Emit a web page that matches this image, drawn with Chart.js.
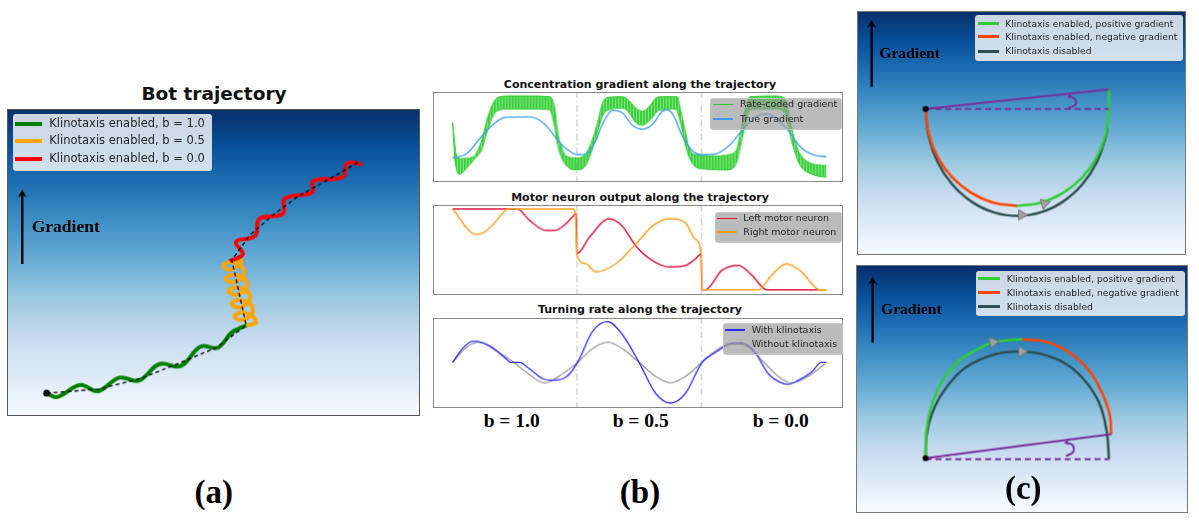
<!DOCTYPE html>
<html>
<head>
<meta charset="utf-8">
<script src="https://cdn.jsdelivr.net/npm/chart.js@4.4.0/dist/chart.umd.min.js"></script>
<style>
  html, body { margin: 0; padding: 0; background: #fff; }
  body { width: 1199px; height: 521px; position: relative; overflow: hidden; font-family: "DejaVu Sans", sans-serif; }
  canvas.frame { position: absolute; border: 1px solid #888; }
  .sky { background: linear-gradient(to bottom, #08306b 0%, #08519c 12.5%, #2171b5 25%, #4292c6 37.5%, #6baed6 50%, #9ecae1 62.5%, #c6dbef 75%, #deebf7 87.5%, #f7fbff 100%); }
  .title { position: absolute; font-weight: bold; white-space: nowrap; transform: translateX(-50%); line-height: 1; color: #111; }
  .serif { position: absolute; font-family: "Liberation Serif", serif; font-weight: bold; line-height: 1; white-space: nowrap; color: #000; }
  .center { transform: translateX(-50%); }
  .legend { position: absolute; border-radius: 3px; box-sizing: border-box; }
  .legend .sw { position: absolute; }
  .legend .tx { position: absolute; color: #262626; white-space: nowrap; }
</style>
</head>
<body>

<canvas id="trajA" class="frame sky" width="413" height="307" style="left:7px;top:109px;border-color:#555"></canvas>
<canvas id="concB" class="frame" width="410" height="90" style="left:433px;top:92px"></canvas>
<canvas id="motorB" class="frame" width="410" height="90" style="left:433px;top:205px"></canvas>
<canvas id="turnB" class="frame" width="410" height="90" style="left:433px;top:318px"></canvas>
<canvas id="arcTop" class="frame sky" width="329" height="244" style="left:857px;top:11px;border-color:#777"></canvas>
<canvas id="arcBot" class="frame sky" width="332" height="248" style="left:856px;top:265px;border-color:#777"></canvas>

<div class="title" style="left:214px;top:85px;font-size:18.5px">Bot trajectory</div>
<div class="title" style="left:640px;top:78.5px;font-size:11px">Concentration gradient along the trajectory</div>
<div class="title" style="left:640px;top:191.7px;font-size:11px">Motor neuron output along the trajectory</div>
<div class="title" style="left:640px;top:304px;font-size:11px">Turning rate along the trajectory</div>

<div class="serif" style="left:31.7px;top:218px;font-size:17.5px">Gradient</div>
<div class="serif" style="left:879.3px;top:45.2px;font-size:15.6px">Gradient</div>
<div class="serif" style="left:881px;top:301.2px;font-size:15.6px">Gradient</div>

<div class="serif center" style="left:511.7px;top:411.4px;font-size:19.5px">b = 1.0</div>
<div class="serif center" style="left:640.7px;top:411.4px;font-size:19.5px">b = 0.5</div>
<div class="serif center" style="left:780.7px;top:411.4px;font-size:19.5px">b = 0.0</div>

<div class="serif center" style="left:213.7px;top:476.4px;font-size:33px">(a)</div>
<div class="serif center" style="left:640px;top:476.4px;font-size:33px">(b)</div>
<div class="serif center" style="left:1023.3px;top:472.4px;font-size:33px">(c)</div>

<script>
// ---- (a) bot trajectory, x/y in plot units ----
const trajStart = [[36.5, 19.5]];
const trajB10 = [[36.5,19.5],[47,15.5],[71,28],[89,21.5],[111,35.5],[131,32.5],[152,49.5],[174,47.5],[194,67.5],[212,66.5],[226,82],[241,89.5]];
const trajB05 = [[241,89.5],[251,93],[240,102.5],[229,99],[238.5,95.5],[248,105.5],[237,115.5],[226,112],[235.5,108.5],[245,118.5],[234,128.5],[223,125],[232.5,121.5],[242,131.5],[231,141.5],[220,138],[229.5,134.5],[239,144.5],[228,154.5],[217.5,151],[227,147.5],[236,157],[224,156]];
const trajB00 = [[224,156],[237.5,163],[230.5,176],[250,182],[254.5,199.5],[278.5,205],[280.5,220.5],[308.5,227],[309.5,238.5],[340,243],[344.5,257],[359.7,256]];
const trajMean = [[36.5,19.5],[89.7,23.7],[133,34.7],[166.3,48],[209.7,66.3],[241,89.5],[226.3,157],[244.7,182.7],[268,203.3],[294.7,223.3],[324.7,240],[356.3,258.3]];
const legendA = ['Klinotaxis enabled, b = 1.0', 'Klinotaxis enabled, b = 0.5', 'Klinotaxis enabled, b = 0.0'];

// ---- (b) signals along the trajectory ----
const bBoundaries = [433, 808];
const rateUpper = [[58,180],[62,140],[70,78],[85,70],[120,75],[140,110],[152,150],[165,200],[180,240],[195,258],[230,262],[290,262],[350,260],[365,230],[375,150],[385,110],[400,78],[430,72],[460,85],[480,130],[495,180],[510,240],[525,258],[570,260],[590,248],[605,230],[630,215],[655,235],[670,255],[690,260],[735,260],[745,220],[760,150],[770,105],[790,82],[850,78],[890,82],[915,100],[925,145],[940,220],[955,260],[1030,262],[1060,255],[1075,190],[1090,125],[1105,85],[1140,55],[1185,48]];
const rateLower = [[58,180],[65,65],[80,22],[100,40],[130,75],[145,95],[155,130],[165,160],[175,190],[190,215],[230,222],[290,222],[350,220],[365,170],[375,110],[390,65],[410,40],[430,35],[460,50],[480,100],[495,150],[510,200],[530,220],[570,225],[590,210],[610,180],[630,172],[655,190],[680,218],[730,222],[745,180],[760,110],[775,65],[800,40],[890,35],[915,60],[925,105],[940,170],[955,220],[1030,222],[1060,210],[1075,145],[1090,90],[1105,50],[1140,22],[1185,12]];
const trueGrad = [[58,72],[100,85],[160,155],[220,197],[290,198],[330,180],[390,110],[435,82],[460,84],[490,125],[510,175],[540,218],[570,210],[600,172],[630,160],[660,174],[690,215],[705,220],[725,200],[750,140],[780,95],[810,82],[850,84],[890,108],[930,155],[970,197],[1000,207],[1030,197],[1070,155],[1110,102],[1150,80],[1185,76]];
const leftMotor = [[58,263],[228,263],[255,262],[290,228],[340,197],[370,198],[400,218],[428,248],[431,250],[433,125],[470,175],[530,233],[570,210],[610,150],[660,105],[710,85],[760,90],[790,110],[807,125],[809,15],[820,15],[870,75],[920,90],[960,60],[1005,15],[1185,15]];
const rightMotor = [[58,263],[75,240],[100,205],[125,185],[150,190],[180,215],[205,245],[225,263],[420,263],[428,252],[433,120],[460,95],[490,70],[550,95],[610,155],[660,210],[710,233],[760,220],[790,170],[807,123],[809,15],[980,15],[1020,60],[1065,95],[1110,70],[1165,15],[1185,15]];
const turnKlino = [[58,138],[90,183],[120,203],[170,188],[220,148],[232,138],[260,138],[290,118],[330,88],[360,83],[400,93],[435,138],[480,233],[525,263],[570,223],[620,138],[670,43],[715,13],[760,43],[810,138],[850,168],[890,193],[930,198],[970,168],[1010,103],[1050,75],[1070,71],[1100,83],[1140,108],[1170,138],[1185,138]];
const turnNoKlino = [[58,138],[100,185],[140,200],[190,173],[240,140],[280,108],[335,75],[390,103],[435,138],[480,180],[525,200],[570,180],[620,138],[670,95],[715,75],[760,95],[810,138],[860,180],[905,198],[950,185],[1000,135],[1040,95],[1080,75],[1130,95],[1180,133]];
const legendConc = ['Rate-coded gradient', 'True gradient'];
const legendMotor = ['Left motor neuron', 'Right motor neuron'];
const legendTurn = ['With klinotaxis', 'Without klinotaxis'];

// ---- (c) single turn, positive / negative gradient ----
const cTopStart = [[193,445]];
const cTopNeg = [[193,445],[203,364.5],[231.7,289.5],[277.7,225.1],[337.5,175.7],[407.2,144.6],[482,134]];
const cTopPos = [[482,134],[556.8,144.6],[626.5,175.7],[686.3,225.1],[732.3,289.5],[761,364.5],[771,445],[771,508]];
const cTopOff = [[193,445],[203,356.2],[231.7,273.5],[277.7,202.5],[337.5,148],[407.2,113.7],[482,102],[556.8,113.7],[626.5,148],[686.3,202.5],[732.3,273.5],[761,356.2],[766.6,385.6]];
const cTopHeading = [[193,445],[771,508]];
const cTopRef = [[193,445],[771,445]];
const cTopCurl = [[643,448],[666,460],[664,476],[648,486]];
const cTopMarks = [[568,142],[496,105]];

const cBotStart = [[195,153]];
const cBotPos = [[195,153],[198,245],[215,325],[250,405],[300,465],[360,503],[410,525],[500,535]];
const cBotNeg = [[500,535],[580,525],[650,490],[710,435],[750,365],[775,295],[780,230]];
const cBotOff = [[195,153],[198,225],[215,295],[250,365],[310,435],[380,475],[440,492],[495,495],[560,487],[630,460],[690,410],[740,335],[765,245],[773,150]];
const cBotHeading = [[195,153],[780,230]];
const cBotRef = [[195,150],[773,150]];
const cBotCurl = [[638,160],[660,173],[658,195],[640,203]];
const cBotMarks = [[408,525],[498,495]];
const legendC = ['Klinotaxis enabled, positive gradient', 'Klinotaxis enabled, negative gradient', 'Klinotaxis disabled'];

const C_GREEN = 'rgb(50,205,50)', C_ORANGE_RED = '#ff4500', C_DARK = '#2f4f4f', C_PURPLE = '#7b2d9c';

const toXY = pts => pts.map(p => ({ x: p[0], y: p[1] }));

function line(pts, color, width, extra) {
  return Object.assign({
    data: toXY(pts), showLine: true, borderColor: color, backgroundColor: color,
    borderWidth: width, pointRadius: 0, tension: 0.4, fill: false
  }, extra || {});
}

function dots(pts, color, r, extra) {
  return Object.assign({
    data: toXY(pts), showLine: false, pointRadius: r, pointBackgroundColor: color,
    pointBorderColor: color, borderWidth: 0, order: 0
  }, extra || {});
}

function vline(x, yMax) {
  return line([[x, -5], [x, yMax + 5]], '#c8c8c8', 1.2, { tension: 0, borderDash: [7, 3, 1.5, 3], order: 20 });
}

// striped fill to mimic the dense spiking of the rate-coded signal
function stripes() {
  const c = document.createElement('canvas');
  c.width = 3; c.height = 4;
  const g = c.getContext('2d');
  g.fillStyle = 'rgba(50,205,50,0.95)';
  g.fillRect(0, 0, 2, 4);
  g.fillStyle = 'rgba(50,205,50,0.6)';
  g.fillRect(2, 0, 1, 4);
  return g.createPattern(c, 'repeat');
}

// arrow pointing up, drawn in canvas pixels
const arrowPlugin = (x, tip, tail) => ({
  id: 'gradArrow',
  afterDraw(chart) {
    const ctx = chart.ctx;
    ctx.save();
    ctx.strokeStyle = '#000';
    ctx.fillStyle = '#000';
    ctx.lineWidth = 2.4;
    ctx.beginPath(); ctx.moveTo(x, tail); ctx.lineTo(x, tip + 3); ctx.stroke();
    ctx.beginPath(); ctx.moveTo(x - 4.5, tip + 8); ctx.lineTo(x, tip); ctx.lineTo(x + 4.5, tip + 8); ctx.lineTo(x, tip + 5); ctx.closePath(); ctx.fill();
    ctx.restore();
  }
});

function makeChart(id, xr, yr, datasets, plugins) {
  return new Chart(document.getElementById(id), {
    type: 'scatter',
    data: { datasets },
    options: {
      responsive: false, animation: false, devicePixelRatio: 1, events: [],
      layout: { padding: 0 },
      plugins: { legend: { display: false }, tooltip: { enabled: false } },
      scales: {
        x: { type: 'linear', display: false, min: xr[0], max: xr[1] },
        y: { type: 'linear', display: false, min: yr[0], max: yr[1] }
      }
    },
    plugins: plugins || []
  });
}

function addLegend(box, items, opt) {
  const d = document.createElement('div');
  d.className = 'legend';
  Object.assign(d.style, {
    left: box[0] + 'px', top: box[1] + 'px', width: box[2] + 'px', height: box[3] + 'px',
    background: opt.bg, border: opt.border
  });
  items.forEach((it, i) => {
    const y = opt.rows[i];
    const sw = document.createElement('div');
    sw.className = 'sw';
    Object.assign(sw.style, { left: opt.swX + 'px', width: opt.swW + 'px', top: (y - it.lw / 2) + 'px', height: it.lw + 'px', background: it.color });
    const tx = document.createElement('div');
    tx.className = 'tx';
    Object.assign(tx.style, { left: opt.txX + 'px', top: (y - opt.font * 0.62) + 'px', fontSize: opt.font + 'px', lineHeight: (opt.font * 1.2) + 'px' });
    tx.textContent = it.label;
    d.appendChild(sw);
    d.appendChild(tx);
  });
  document.body.appendChild(d);
}

// (a)
makeChart('trajA', [1, 414], [1, 308], [
  dots(trajStart, '#000', 3.5),
  line(trajMean, '#000', 1.3, { tension: 0, borderDash: [4, 3], order: 1 }),
  line(trajB00, '#ff0000', 4, { order: 2 }),
  line(trajB05, '#ffa500', 4, { order: 3, tension: 0.55 }),
  line(trajB10, '#008000', 4, { order: 4 })
], [arrowPlugin(14.3, 80, 155)]);

addLegend([12.7, 114, 199.3, 56.7], [
  { label: legendA[0], color: '#008000', lw: 4 },
  { label: legendA[1], color: '#ffa500', lw: 4 },
  { label: legendA[2], color: '#ff0000', lw: 4 }
], { bg: 'rgba(255,255,255,0.8)', border: '1px solid rgba(215,215,215,0.9)', rows: [9, 26.3, 43.7], swX: 1.3, swW: 27, txX: 35.6, font: 11.5 });

// (b) top
const monotone = { cubicInterpolationMode: 'monotone' };
makeChart('concB', [2, 1232], [1, 271], [
  vline(bBoundaries[0], 271), vline(bBoundaries[1], 271),
  line(rateUpper, C_GREEN, 1, Object.assign({ fill: '+1', backgroundColor: stripes(), order: 5 }, monotone)),
  line(rateLower, C_GREEN, 1, Object.assign({ order: 6 }, monotone)),
  line(trueGrad, '#3c9cf5', 1.3, Object.assign({ order: 1 }, monotone))
]);
addLegend([710, 98.3, 131.7, 31.7], [
  { label: legendConc[0], color: C_GREEN, lw: 1.5 },
  { label: legendConc[1], color: '#3c9cf5', lw: 1.5 }
], { bg: 'rgba(150,150,150,0.65)', border: '1px solid rgba(205,205,205,0.8)', rows: [5, 19.7], swX: 2, swW: 20, txX: 29, font: 9.5 });

// (b) middle
makeChart('motorB', [2, 1232], [2, 272], [
  vline(bBoundaries[0], 272), vline(bBoundaries[1], 272),
  line(rightMotor, '#ffa020', 1.5, Object.assign({ order: 2 }, monotone)),
  line(leftMotor, '#dc143c', 1.5, Object.assign({ order: 3 }, monotone))
]);
addLegend([715, 212.3, 126.7, 31], [
  { label: legendMotor[0], color: '#dc143c', lw: 1.5 },
  { label: legendMotor[1], color: '#ff9a10', lw: 1.8 }
], { bg: 'rgba(150,150,150,0.65)', border: '1px solid rgba(205,205,205,0.8)', rows: [5, 18.4], swX: 0.7, swW: 20, txX: 27.3, font: 9.5 });

// (b) bottom
makeChart('turnB', [2, 1232], [1, 271], [
  vline(bBoundaries[0], 271), vline(bBoundaries[1], 271),
  line(turnKlino, '#2b2bff', 1.3, Object.assign({ order: 1 }, monotone)),
  line(turnNoKlino, '#999999', 1.3, Object.assign({ order: 2 }, monotone))
]);
addLegend([722.7, 323.3, 120.6, 31.7], [
  { label: legendTurn[0], color: '#2b2bff', lw: 1.5 },
  { label: legendTurn[1], color: '#999999', lw: 1.5 }
], { bg: 'rgba(150,150,150,0.65)', border: '1px solid rgba(205,205,205,0.8)', rows: [5.7, 20], swX: 1.3, swW: 20, txX: 28, font: 9.5 });

// (c) top and bottom
function arcSets(start, pos, neg, off, heading, ref, curl, marks, markRot, curlRot) {
  return [
    dots(start, '#000', 3),
    dots(marks, '#a0a0a0', 6, { pointStyle: 'triangle', rotation: markRot, pointBorderColor: '#777', borderWidth: 1 }),
    line(heading, C_PURPLE, 2, { tension: 0, order: 1 }),
    line(ref, C_PURPLE, 2, { tension: 0, borderDash: [6, 4], order: 1 }),
    line(curl, C_PURPLE, 2, { order: 1 }),
    dots([curl[curl.length - 1]], C_PURPLE, 3, { pointStyle: 'triangle', rotation: curlRot }),
    line(pos, C_GREEN, 2.5, { order: 2 }),
    line(neg, C_ORANGE_RED, 2.5, { order: 2 }),
    line(off, C_DARK, 2.5, { order: 3 })
  ];
}

makeChart('arcTop', [2, 989], [2, 734],
  arcSets(cTopStart, cTopPos, cTopNeg, cTopOff, cTopHeading, cTopRef, cTopCurl, cTopMarks, [75, 90], 250),
  [arrowPlugin(13.7, 8, 75.3)]);
makeChart('arcBot', [1, 997], [3, 747],
  arcSets(cBotStart, cBotPos, cBotNeg, cBotOff, cBotHeading, cBotRef, cBotCurl, cBotMarks, [78, 90], 250),
  [arrowPlugin(15.7, 10.7, 77.3)]);

const legendCStyle = { bg: 'rgba(255,255,255,0.8)', border: '1px solid rgba(215,215,215,0.9)', swW: 21.6, font: 9.2 };
addLegend([975, 15, 207.7, 45.7], [
  { label: legendC[0], color: C_GREEN, lw: 3 },
  { label: legendC[1], color: C_ORANGE_RED, lw: 3 },
  { label: legendC[2], color: C_DARK, lw: 3 }
], Object.assign({ rows: [7.3, 20.7, 35], swX: 1.7, txX: 29.3 }, legendCStyle));
addLegend([976, 270.7, 209, 45.3], [
  { label: legendC[0], color: C_GREEN, lw: 3 },
  { label: legendC[1], color: C_ORANGE_RED, lw: 3 },
  { label: legendC[2], color: C_DARK, lw: 3 }
], Object.assign({ rows: [6.6, 20.6, 35], swX: 1.3, txX: 29.7 }, legendCStyle));
</script>
</body>
</html>
